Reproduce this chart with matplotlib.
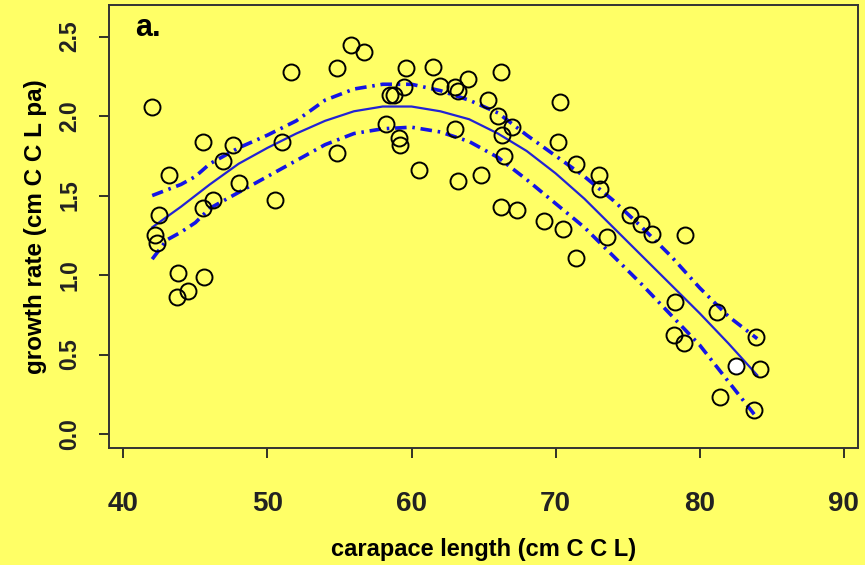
import matplotlib.pyplot as plt

# observed growth rates (cm CCL per annum) against carapace length
length = [42.0, 42.2, 42.3, 42.5, 43.2, 43.8, 43.7, 44.5, 45.6, 45.5, 45.5, 46.2,
          46.9, 47.6, 48.0, 50.5, 51.0, 51.6, 54.8, 54.8, 55.8, 56.7, 58.2, 58.5,
          58.8, 59.1, 59.2, 59.5, 59.6, 60.5, 61.5, 62.0, 63.0, 63.0, 63.2, 63.2,
          63.9, 64.8, 65.3, 66.2, 66.0, 66.3, 66.4, 66.2, 67.0, 67.3, 69.2, 70.3,
          70.2, 70.5, 71.4, 71.4, 73.0, 73.1, 73.6, 75.2, 75.9, 76.7, 79.0, 78.2,
          78.3, 78.9, 81.2, 81.4, 83.9, 83.8, 84.2]
growth = [2.06, 1.25, 1.20, 1.38, 1.63, 1.01, 0.86, 0.90, 0.99, 1.84, 1.42, 1.47,
          1.72, 1.82, 1.58, 1.47, 1.84, 2.28, 1.77, 2.30, 2.45, 2.40, 1.95, 2.13,
          2.13, 1.86, 1.82, 2.18, 2.30, 1.66, 2.31, 2.19, 1.92, 2.18, 2.16, 1.59,
          2.23, 1.63, 2.10, 2.28, 2.00, 1.88, 1.75, 1.43, 1.93, 1.41, 1.34, 2.09,
          1.84, 1.29, 1.70, 1.11, 1.63, 1.54, 1.24, 1.38, 1.32, 1.26, 1.25, 0.62,
          0.83, 0.57, 0.77, 0.23, 0.61, 0.15, 0.41]
# the one highlighted (white) turtle
hl_length = [82.5]
hl_growth = [0.43]

# fitted curve with confidence band
fit_x = [42, 44, 46, 48, 50, 52, 54, 56, 58, 60, 62, 64, 66, 68, 70, 72, 74, 76, 78, 80, 82, 84]
fit_y = [1.30, 1.43, 1.57, 1.70, 1.80, 1.89, 1.97, 2.03, 2.06, 2.06, 2.03, 1.98, 1.89,
         1.78, 1.64, 1.48, 1.30, 1.12, 0.94, 0.76, 0.57, 0.37]
up_x = [42, 44, 45, 46, 48, 50, 52, 54, 56, 58, 60, 62, 64, 66, 68, 70, 72, 74, 76, 78, 80, 82, 84]
up_y = [1.50, 1.57, 1.62, 1.70, 1.80, 1.88, 1.97, 2.10, 2.17, 2.20, 2.20, 2.16, 2.10,
        2.02, 1.88, 1.75, 1.62, 1.47, 1.30, 1.12, 0.92, 0.74, 0.60]
lo_x = [42, 43, 44, 45, 46, 48, 50, 52, 54, 56, 58, 60, 62, 64, 66, 68, 70, 72, 74, 76, 78, 80, 82, 84]
lo_y = [1.10, 1.22, 1.27, 1.33, 1.42, 1.52, 1.62, 1.72, 1.82, 1.89, 1.92, 1.93, 1.90,
        1.84, 1.74, 1.60, 1.45, 1.30, 1.12, 0.94, 0.75, 0.56, 0.33, 0.10]

bg = '#ffff66'
plt.rcParams['font.family'] = ['Liberation Sans', 'DejaVu Sans']
plt.rcParams['font.weight'] = 'bold'

fig = plt.figure(figsize=(8.65, 5.65), dpi=100, facecolor=bg)
ax = fig.add_axes([0.126, 0.207, 0.866, 0.784], facecolor=bg)

dashdot = (0, (3.2, 1.6, 0.7, 1.6))
ax.plot(up_x, up_y, color='#1414e6', lw=2.6, ls=dashdot)
ax.plot(lo_x, lo_y, color='#1414e6', lw=2.6, ls=dashdot)
ax.plot(fit_x, fit_y, color='#2222d4', lw=1.6)
ax.plot(length, growth, 'o', ms=11.5, mfc='none', mec='black', mew=1.4)
ax.plot(hl_length, hl_growth, 'o', ms=11.5, mfc='white', mec='black', mew=1.4)

ax.set_xlim(39.0, 91.0)
ax.set_ylim(-0.088, 2.698)
ax.set_xticks([40, 50, 60, 70, 80, 90])
ax.set_yticks([0.0, 0.5, 1.0, 1.5, 2.0, 2.5])
ax.set_yticklabels(['0.0', '0.5', '1.0', '1.5', '2.0', '2.5'], rotation=90, va='center')
ax.tick_params(axis='x', labelsize=20, pad=24, length=7, width=1.3, colors='#222222')
ax.tick_params(axis='y', labelsize=16.5, pad=13, length=7, width=1.3, colors='#222222')
for s in ax.spines.values():
    s.set_color('#333333')
    s.set_linewidth(1.4)

ax.set_xlabel('carapace length (cm C C L)', fontsize=17, fontweight='bold', labelpad=15)
ax.set_ylabel('growth rate (cm C C L pa)', fontsize=17.5, fontweight='bold', labelpad=8)
ax.text(0.035, 0.93, 'a.', transform=ax.transAxes, fontsize=22, fontweight='bold')

fig.savefig('out.png', dpi=100, facecolor=bg)
